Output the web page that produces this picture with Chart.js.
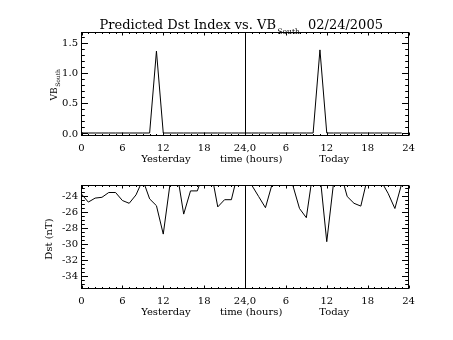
<!DOCTYPE html>
<html><head><meta charset="utf-8">
<script src="https://cdn.jsdelivr.net/npm/chart.js@4/dist/chart.umd.min.js"></script>
<style>
html,body{margin:0;padding:0;background:#fff;}
#wrap{position:relative;width:453px;height:340px;background:#fff;}
canvas{position:absolute;left:0;top:0;}
</style></head><body>
<div id="wrap"><canvas id="c1" width="453" height="340"></canvas><canvas id="c2" width="453" height="340"></canvas></div>
<script>
// ---- data ----
const hours = [0,1,2,3,4,5,6,7,8,9,10,11,12,13,14,15,16,17,18,19,20,21,22,23,
               24,25,26,27,28,29,30,31,32,33,34,35,36,37,38,39,40,41,42,43,44,45,46,47];
const vbSouth = [0,0,0,0,0,0,0,0,0,0,0,1.36,0,0,0,0,0,0,0,0,0,0,0,0,
                 0,0,0,0,0,0,0,0,0,0,0,1.38,0,0,0,0,0,0,0,0,0,0,0,0];
const dst = [-23.8,-24.8,-24.3,-24.2,-23.6,-23.6,-24.6,-24.95,-23.9,-22.0,-24.4,-25.25,
             -28.8,-22.5,-21.0,-26.3,-23.4,-23.4,-21.0,-20.8,-25.4,-24.5,-24.5,-21.0,
             -21.5,-22.7,-24.1,-25.5,-22.5,-21.5,-21.5,-22.65,-25.6,-26.75,-20.9,-21.3,
             -29.75,-22.4,-21.0,-24.1,-24.95,-25.3,-21.7,-21.5,-22.2,-23.7,-25.6,-22.5];
const xTickValues = [0,6,12,18,24,30,36,42,48];
const xTickLabels = ["0","6","12","18","24,0","6","12","18","24"];
const vbTickValues = [0,0.5,1.0,1.5];
const vbTickLabels = ["0.0","0.5","1.0","1.5"];
const dstTickValues = [-24,-26,-28,-30,-32,-34];
const dstTickLabels = ["-24","-26","-28","-30","-32","-34"];
const titleMain = "Predicted Dst Index vs. VB";
const titleSub = "South";
const titleDate = "02/24/2005";
const xTitleParts = ["Yesterday","time (hours)","Today"];
const vbTitle = ["VB","South"];
const dstTitle = "Dst (nT)";

const FONT = '"DejaVu Serif", serif';

function axesPlugin(cfg){
  return {
    id:'idlAxes'+cfg.name,
    afterDatasetsDraw(chart){
      const ctx = chart.ctx, a = chart.chartArea, xs = chart.scales.x, ys = chart.scales.y;
      ctx.save();
      ctx.strokeStyle = '#000'; ctx.fillStyle = '#000'; ctx.lineWidth = 1;
      // frame
      ctx.strokeRect(a.left, a.top, a.right - a.left, a.bottom - a.top);
      // vertical divider at 24 h
      const xm = Math.round(xs.getPixelForValue(24)) + 0.5;
      ctx.beginPath(); ctx.moveTo(xm, a.top); ctx.lineTo(xm, a.bottom); ctx.stroke();
      // x ticks (minor every hour, major every 6)
      ctx.beginPath();
      for (let h = 0; h <= 48; h++) {
        const px = Math.round(xs.getPixelForValue(h)) + 0.5;
        const len = (h % 6 === 0) ? 3 : 1.5;
        ctx.moveTo(px, a.bottom); ctx.lineTo(px, a.bottom - len);
        ctx.moveTo(px, a.top); ctx.lineTo(px, a.top + len);
      }
      // y ticks
      const yl = ys.min, yh = ys.max;
      for (let v = cfg.minorStart; v <= yh + 1e-9; v += cfg.minorStep) {
        const vv = Math.round(v * 1000) / 1000;
        if (vv < yl) continue;
        const py = Math.round(ys.getPixelForValue(vv)) + 0.5;
        const isMajor = cfg.yTicks.some(t => Math.abs(t - vv) < 1e-6);
        const len = isMajor ? 6.5 : 3.3;
        ctx.moveTo(a.left, py); ctx.lineTo(a.left + len, py);
        ctx.moveTo(a.right, py); ctx.lineTo(a.right - len, py);
      }
      ctx.stroke();
      // x tick labels
      ctx.font = '10px ' + FONT;
      ctx.textAlign = 'center'; ctx.textBaseline = 'alphabetic';
      xTickValues.forEach((v, i) => {
        ctx.fillText(xTickLabels[i], xs.getPixelForValue(v), a.bottom + 15);
      });
      // x title pieces
      const xtPos = [12.4, 24.9, 37.1];
      xTitleParts.forEach((t, i) => ctx.fillText(t, xs.getPixelForValue(xtPos[i]), a.bottom + 26));
      // y tick labels
      ctx.textAlign = 'right';
      cfg.yTicks.forEach((v, i) => {
        ctx.fillText(cfg.yLabels[i], a.left - 3.5, ys.getPixelForValue(v) + 3.6);
      });
      // y title
      cfg.drawYTitle(ctx, a);
      if (cfg.drawTitle) cfg.drawTitle(ctx);
      ctx.restore();
    }
  };
}

function makeChart(id, data, yMin, yMax, pad, cfg){
  return new Chart(document.getElementById(id), {
    type: 'line',
    data: { datasets: [{ data: hours.map((h, i) => ({x: h, y: data[i]})),
      borderColor: '#000', borderWidth: 1, pointRadius: 0, tension: 0, fill: false }] },
    options: {
      responsive: false, maintainAspectRatio: false, animation: false, devicePixelRatio: 1,
      layout: { padding: pad },
      scales: {
        x: { type: 'linear', min: 0, max: 48, display: false },
        y: { type: 'linear', min: yMin, max: yMax, display: false }
      },
      plugins: { legend: { display: false }, tooltip: { enabled: false }, title: { display: false } }
    },
    plugins: [axesPlugin(cfg)]
  });
}

makeChart('c1', vbSouth, -0.0415, 1.669,
  { left: 81.5, right: 44.5, top: 32.5, bottom: 204.5 },
  { name: 'top', yTicks: vbTickValues, yLabels: vbTickLabels, minorStart: 0, minorStep: 0.1,
    drawYTitle(ctx, a){
      ctx.save();
      ctx.font = '9px ' + FONT;
      const w1 = ctx.measureText(vbTitle[0]).width;
      ctx.font = '6px ' + FONT;
      const w2 = ctx.measureText(vbTitle[1]).width;
      ctx.translate(56.5, 85);
      ctx.rotate(-Math.PI / 2);
      ctx.textAlign = 'left';
      ctx.font = '9px ' + FONT;
      ctx.fillText(vbTitle[0], -(w1 + w2) / 2, 0);
      ctx.font = '6px ' + FONT;
      ctx.fillText(vbTitle[1], -(w1 + w2) / 2 + w1 + 0.5, 3);
      ctx.restore();
    },
    drawTitle(ctx){
      ctx.textAlign = 'left';
      ctx.font = '13px ' + FONT;
      ctx.fillText(titleMain, 99.5, 29.3);
      const w = ctx.measureText(titleMain).width;
      ctx.font = '7.5px ' + FONT;
      ctx.fillText(titleSub, 99.5 + w + 1.5, 34);
      ctx.font = '13px ' + FONT;
      ctx.fillText(titleDate, 308, 29.3);
    }
  });

makeChart('c2', dst, -35.6, -22.725,
  { left: 81.5, right: 44.5, top: 185.5, bottom: 51.5 },
  { name: 'bot', yTicks: dstTickValues, yLabels: dstTickLabels, minorStart: -35.5, minorStep: 0.5,
    drawYTitle(ctx, a){
      ctx.save();
      ctx.font = '10px ' + FONT;
      ctx.translate(51.5, 239);
      ctx.rotate(-Math.PI / 2);
      ctx.textAlign = 'center';
      ctx.fillText(dstTitle, 0, 0);
      ctx.restore();
    }
  });
</script>
</body></html>
